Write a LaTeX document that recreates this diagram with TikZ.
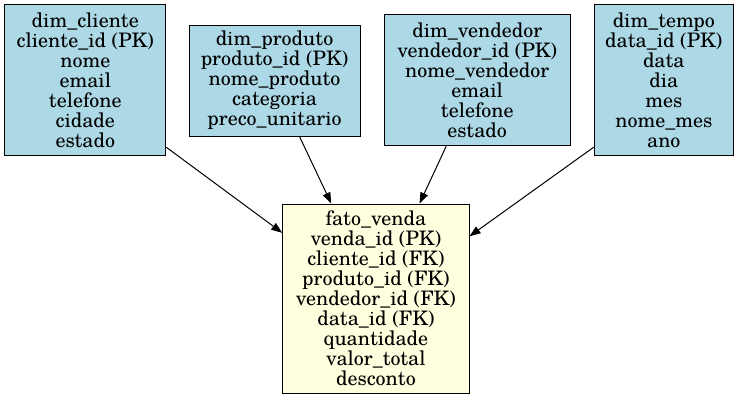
\documentclass[tikz,border=0pt]{standalone}
\usepackage{fontspec}
\setmainfont{TeX Gyre Schola}
\usetikzlibrary{arrows.meta,calc}
\definecolor{dimblue}{HTML}{ADD8E6}
\definecolor{factyellow}{HTML}{FFFFE0}
\tikzset{
  tbl/.style={draw=black, line width=1pt, inner sep=0pt, align=center, font=\fontsize{20}{20}\selectfont},
  dimtbl/.style={tbl, fill=dimblue},
  facttbl/.style={tbl, fill=factyellow},
  arr/.style={line width=1pt, -{Triangle[length=11pt,width=8pt]}}
}
\begin{document}
\begin{tikzpicture}[x=1pt,y=-1pt]
\useasboundingbox (0,0) rectangle (739,400);
\node[dimtbl, minimum width=160.7pt, minimum height=150.7pt] (cli) at (85.3,80.3)
  {dim\_cliente\\cliente\_id (PK)\\nome\\email\\telefone\\cidade\\estado};
\node[dimtbl, minimum width=171pt, minimum height=111pt] (prod) at (274.5,80.5)
  {dim\_produto\\produto\_id (PK)\\nome\_produto\\categoria\\preco\_unitario};
\node[dimtbl, minimum width=185.7pt, minimum height=130.7pt] (vend) at (477.2,80.3)
  {dim\_vendedor\\vendedor\_id (PK)\\nome\_vendedor\\email\\telefone\\estado};
\node[dimtbl, minimum width=139pt, minimum height=150.7pt] (tempo) at (663.8,80.3)
  {dim\_tempo\\data\_id (PK)\\data\\dia\\mes\\nome\_mes\\ano};
\node[facttbl, minimum width=186.3pt, minimum height=189.3pt] (fato) at (375.9,298.7)
  {fato\_venda\\venda\_id (PK)\\cliente\_id (FK)\\produto\_id (FK)\\vendedor\_id (FK)\\data\_id (FK)\\quantidade\\valor\_total\\desconto};
\draw[arr] ($(cli.south east)+(0,-9)$) -- ($(fato.north west)+(0,29.3)$);
\draw[arr] ($(prod.south west)+(111,0)$) -- ($(fato.north west)+(49,0)$);
\draw[arr] ($(vend.south west)+(62.4,0)$) -- ($(fato.north west)+(137.3,0)$);
\draw[arr] ($(tempo.south west)+(0,-9)$) -- ($(fato.north east)+(0,32.7)$);
\end{tikzpicture}
\end{document}
